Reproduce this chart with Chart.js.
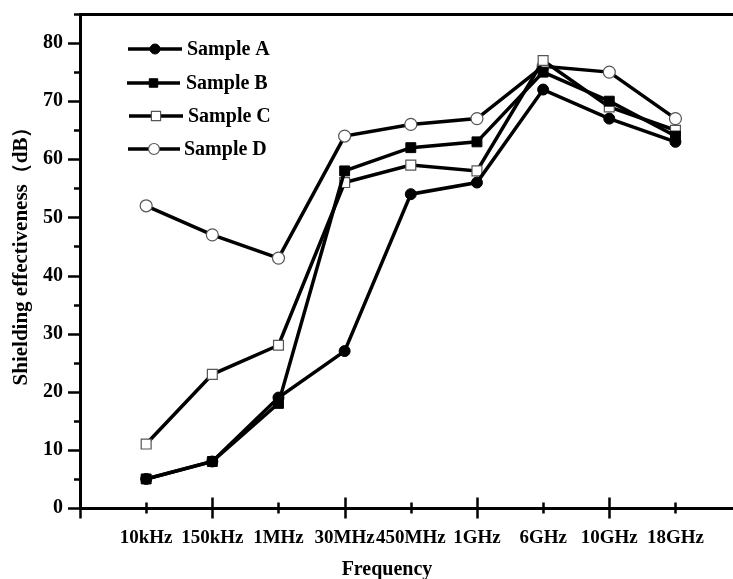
<!DOCTYPE html>
<html>
<head>
<meta charset="utf-8">
<script src="https://cdn.jsdelivr.net/npm/chart.js@4.4.1/dist/chart.umd.min.js"></script>
<style>
  html, body { margin: 0; padding: 0; background: #fff; overflow: hidden; }
  canvas { display: block; }
</style>
</head>
<body>
<canvas id="c" width="733" height="579"></canvas>
<script>
const categories = ["10kHz", "150kHz", "1MHz", "30MHz", "450MHz", "1GHz", "6GHz", "10GHz", "18GHz"];
const sampleA = [5, 8, 19, 27, 54, 56, 72, 67, 63];
const sampleB = [5, 8, 18, 58, 62, 63, 75, 70, 64];
const sampleC = [11, 23, 28, 56, 59, 58, 77, 69, 65];
const sampleD = [52, 47, 43, 64, 66, 67, 76, 75, 67];
const seriesNames = ["Sample A", "Sample B", "Sample C", "Sample D"];
const yTickValues = [0, 10, 20, 30, 40, 50, 60, 70, 80];
const xTitle = "Frequency";
const yTitle = "Shielding effectiveness（dB）";

const FONT = "'Liberation Serif', 'Times New Roman', serif";

function pts(arr) { return arr.map((v, i) => ({ x: i + 1, y: v })); }

const styles = [
  { pointStyle: 'circle', radius: 5.5, bg: '#000', border: '#000', bw: 1, legendR: 5 },
  { pointStyle: 'rect', radius: 7, bg: '#000', border: '#000', bw: 1, legendR: 6 },
  { pointStyle: 'rect', radius: 7, bg: '#fff', border: '#555', bw: 1.2, legendR: 6.5 },
  { pointStyle: 'circle', radius: 6, bg: '#fff', border: '#555', bw: 1.2, legendR: 5.5 }
];
const allSeries = [sampleA, sampleB, sampleC, sampleD];

const datasets = allSeries.map((s, i) => ({
  label: seriesNames[i],
  data: pts(s),
  borderColor: '#000',
  borderWidth: 3.5,
  backgroundColor: styles[i].bg,
  pointStyle: styles[i].pointStyle,
  pointRadius: styles[i].radius,
  pointHoverRadius: styles[i].radius,
  pointBackgroundColor: styles[i].bg,
  pointBorderColor: styles[i].border,
  pointBorderWidth: styles[i].bw,
  showLine: true,
  tension: 0,
  fill: false
}));

const legendPos = [
  { y: 49, x1: 128, x2: 182, tx: 187 },
  { y: 83, x1: 127, x2: 180, tx: 186 },
  { y: 116, x1: 129, x2: 183, tx: 188 },
  { y: 149, x1: 128, x2: 180, tx: 184 }
];

const decorPlugin = {
  id: 'decor',
  afterDraw(chart) {
    const ctx = chart.ctx;
    const xs = chart.scales.x, ys = chart.scales.y;
    const area = chart.chartArea;
    ctx.save();
    ctx.strokeStyle = '#000';
    ctx.lineWidth = 2.5;
    // y ticks (outward)
    for (let v = 0; v <= 85; v += 5) {
      const py = Math.round(ys.getPixelForValue(v)) + 0.5;
      const len = (v % 10 === 0) ? 12 : 6;
      ctx.beginPath();
      ctx.moveTo(area.left - len, py);
      ctx.lineTo(area.left, py);
      ctx.stroke();
    }
    // x ticks (crossing)
    for (let v = 0; v <= categories.length; v += 1) {
      const px = Math.round(xs.getPixelForValue(v)) + 0.5;
      const len = (v % 2 === 0) ? 10.5 : 5.5;
      ctx.beginPath();
      ctx.moveTo(px, area.bottom - len);
      ctx.lineTo(px, area.bottom + len);
      ctx.stroke();
    }
    // legend
    chart.data.datasets.forEach((ds, i) => {
      const lp = legendPos[i];
      ctx.lineWidth = 3.5;
      ctx.strokeStyle = '#000';
      ctx.beginPath();
      ctx.moveTo(lp.x1, lp.y);
      ctx.lineTo(lp.x2, lp.y);
      ctx.stroke();
      ctx.fillStyle = ds.pointBackgroundColor;
      ctx.strokeStyle = ds.pointBorderColor;
      ctx.lineWidth = ds.pointBorderWidth;
      Chart.helpers.drawPoint(ctx, { pointStyle: ds.pointStyle, radius: styles[i].legendR, borderWidth: ds.pointBorderWidth, rotation: 0 }, (lp.x1 + lp.x2) / 2, lp.y);
      ctx.fillStyle = '#000';
      ctx.font = "bold 20px " + FONT;
      ctx.textAlign = 'left';
      ctx.textBaseline = 'middle';
      ctx.fillText(ds.label, lp.tx, lp.y + 1);
    });
    // axis titles
    ctx.fillStyle = '#000';
    ctx.font = "bold 20px " + FONT;
    ctx.textAlign = 'center';
    ctx.textBaseline = 'alphabetic';
    ctx.fillText(xTitle, 387, 575);
    ctx.save();
    ctx.font = "bold 21px " + FONT;
    ctx.translate(27, 251);
    ctx.rotate(-Math.PI / 2);
    ctx.fillText(yTitle, 0, 0);
    ctx.restore();
    ctx.restore();
  }
};

new Chart(document.getElementById('c'), {
  type: 'scatter',
  data: { datasets },
  options: {
    responsive: false,
    animation: false,
    devicePixelRatio: 1,
    layout: { padding: 0, autoPadding: false },
    plugins: { legend: { display: false }, tooltip: { enabled: false }, title: { display: false } },
    scales: {
      x: {
        type: 'linear',
        position: 'bottom',
        min: 0,
        max: 9.87,
        afterBuildTicks: s => { s.ticks = categories.map((c, i) => ({ value: i + 1 })); },
        afterFit: s => { s.height = 71; s.paddingLeft = 0; s.paddingRight = 0; },
        ticks: {
          autoSkip: false,
          maxRotation: 0,
          padding: 19,
          color: '#000',
          font: { family: FONT, size: 19, weight: 'bold' },
          callback: v => categories[v - 1]
        },
        grid: { display: false, drawTicks: false },
        border: { display: true, color: '#000', width: 3 }
      },
      xTop: {
        type: 'linear',
        position: 'top',
        min: 0,
        max: 1,
        afterFit: s => { s.height = 14; s.paddingLeft = 0; s.paddingRight = 0; },
        ticks: { display: false },
        grid: { display: false, drawTicks: false },
        border: { display: true, color: '#000', width: 3 }
      },
      y: {
        type: 'linear',
        min: 0,
        max: 85,
        afterBuildTicks: s => { s.ticks = yTickValues.map(v => ({ value: v })); },
        afterFit: s => { s.width = 80; s.paddingTop = 0; s.paddingBottom = 0; },
        ticks: {
          padding: 17,
          color: '#000',
          font: { family: FONT, size: 20, weight: 'bold' }
        },
        grid: { display: false, drawTicks: false },
        border: { display: true, color: '#000', width: 3 }
      }
    }
  },
  plugins: [decorPlugin]
});
</script>
</body>
</html>
